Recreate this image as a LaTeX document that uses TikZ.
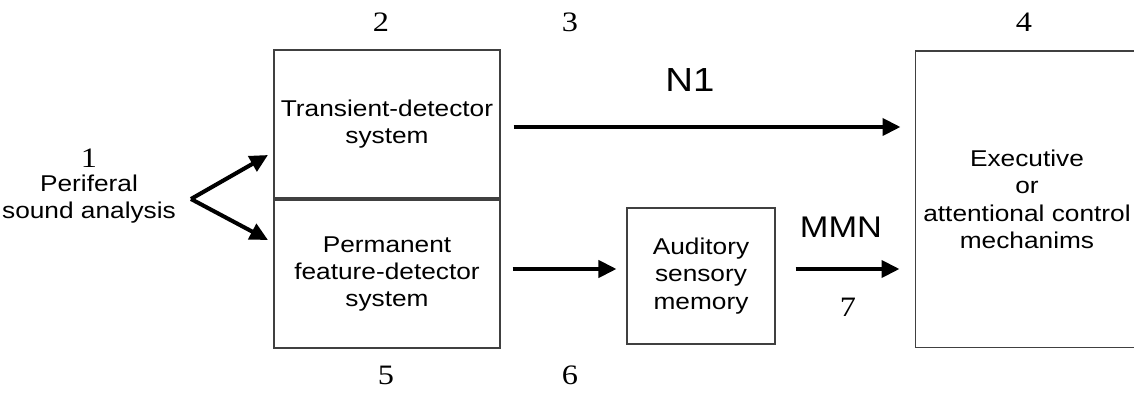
\documentclass[tikz,border=0pt]{standalone}
\usepackage{fontspec}
\setmainfont{Liberation Sans}[FakeStretch=1.15]
\newfontfamily\numfont{Liberation Serif}[FakeStretch=1.15]
\usetikzlibrary{
  arrows.meta,
  positioning,  % Function "of" (e.g. [right=of x])
}
\def\mypx{0.02cm}
\tikzset{
  font=\fontsize{13}{15.6}\selectfont,
  my box/.style={
    draw=black!75,
    line width=0.6pt,
    rectangle,
    align=center,
    inner sep=0mm
  },
  my arrow/.style={
    line width=2.3pt,
    -{Triangle[length=3.6mm,width=3.4mm]}
  },
  my num/.style={
    font=\numfont\fontsize{16}{18}\selectfont,
    inner sep=0mm
  },
  my big/.style={
    font=\fontsize{17}{20}\selectfont,
    inner sep=0mm
  }
}
\begin{document}
\begin{tikzpicture}[x=\mypx,y=-\mypx]
\useasboundingbox (0,0) rectangle (1134,398);
% boxes
\node[my box,minimum width=4.52cm,minimum height=2.96cm] (trans) at (387,124) {Transient-detector\\system};
\node[my box,minimum width=4.52cm,minimum height=2.96cm] (perm)  at (387,274) {Permanent\\feature-detector\\system};
\node[my box,minimum width=2.96cm,minimum height=2.72cm] (aud)   at (701,276) {Auditory\\sensory\\memory};
\node[my box,minimum width=4.48cm,minimum height=5.94cm] (exec)  at (1027,199.5) {Executive\\or\\attentional control\\mechanims};
\node[align=center,inner sep=0mm] (periph) at (89,199) {Periferal\\sound analysis};
% numbers
\node[my num] (n1) at (89,158) {1};
\node[my num] (n2) at (381,22) {2};
\node[my num] (n3) at (570,22) {3};
\node[my num] (n4) at (1024,22) {4};
\node[my num] (n5) at (386,375) {5};
\node[my num] (n6) at (570,375) {6};
\node[my num] (n7) at (848,307) {7};
% labels
\node[my big,font=\fontsize{19}{22}\selectfont] (lN1) at (690,80) {N1};
\node[my big] (lMMN) at (841,227) {MMN};
% arrows
\coordinate (split) at (191,199);
\coordinate (up)    at (268,155);
\coordinate (down)  at (268,240);
\draw[my arrow] (split) -- (up);
\draw[my arrow] (split) -- (down);
\coordinate (t) at ([yshift=-0.06cm]trans.east);
\draw[my arrow,shorten <=0.26cm,shorten >=0.28cm] (t) -- (t -| exec.west);
\coordinate (p) at ([yshift=0.1cm]perm.east);
\draw[my arrow,shorten <=0.24cm,shorten >=0.2cm] (p) -- (p -| aud.west);
\coordinate (m) at (aud.east |- p);
\draw[my arrow,shorten <=0.4cm,shorten >=0.3cm] (m) -- (m -| exec.west);
\end{tikzpicture}
\end{document}
